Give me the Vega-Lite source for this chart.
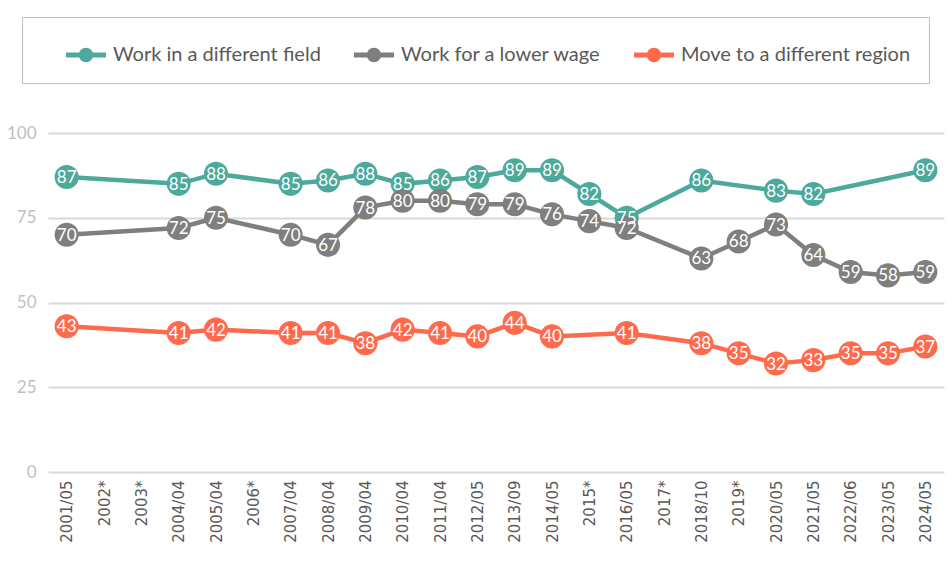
{
  "$schema": "https://vega.github.io/schema/vega-lite/v6.json",
  "width": 896,
  "height": 339,
  "autosize": "none",
  "padding": {"left": 48, "top": 133, "right": 3, "bottom": 109},
  "data": {
    "values": [
      {"d": "2001/05", "s": "Work in a different field", "v": 87},
      {"d": "2004/04", "s": "Work in a different field", "v": 85},
      {"d": "2005/04", "s": "Work in a different field", "v": 88},
      {"d": "2007/04", "s": "Work in a different field", "v": 85},
      {"d": "2008/04", "s": "Work in a different field", "v": 86},
      {"d": "2009/04", "s": "Work in a different field", "v": 88},
      {"d": "2010/04", "s": "Work in a different field", "v": 85},
      {"d": "2011/04", "s": "Work in a different field", "v": 86},
      {"d": "2012/05", "s": "Work in a different field", "v": 87},
      {"d": "2013/09", "s": "Work in a different field", "v": 89},
      {"d": "2014/05", "s": "Work in a different field", "v": 89},
      {"d": "2015*", "s": "Work in a different field", "v": 82},
      {"d": "2016/05", "s": "Work in a different field", "v": 75},
      {"d": "2018/10", "s": "Work in a different field", "v": 86},
      {"d": "2020/05", "s": "Work in a different field", "v": 83},
      {"d": "2021/05", "s": "Work in a different field", "v": 82},
      {"d": "2024/05", "s": "Work in a different field", "v": 89},
      {"d": "2001/05", "s": "Work for a lower wage", "v": 70},
      {"d": "2004/04", "s": "Work for a lower wage", "v": 72},
      {"d": "2005/04", "s": "Work for a lower wage", "v": 75},
      {"d": "2007/04", "s": "Work for a lower wage", "v": 70},
      {"d": "2008/04", "s": "Work for a lower wage", "v": 67},
      {"d": "2009/04", "s": "Work for a lower wage", "v": 78},
      {"d": "2010/04", "s": "Work for a lower wage", "v": 80},
      {"d": "2011/04", "s": "Work for a lower wage", "v": 80},
      {"d": "2012/05", "s": "Work for a lower wage", "v": 79},
      {"d": "2013/09", "s": "Work for a lower wage", "v": 79},
      {"d": "2014/05", "s": "Work for a lower wage", "v": 76},
      {"d": "2015*", "s": "Work for a lower wage", "v": 74},
      {"d": "2016/05", "s": "Work for a lower wage", "v": 72},
      {"d": "2018/10", "s": "Work for a lower wage", "v": 63},
      {"d": "2019*", "s": "Work for a lower wage", "v": 68},
      {"d": "2020/05", "s": "Work for a lower wage", "v": 73},
      {"d": "2021/05", "s": "Work for a lower wage", "v": 64},
      {"d": "2022/06", "s": "Work for a lower wage", "v": 59},
      {"d": "2023/05", "s": "Work for a lower wage", "v": 58},
      {"d": "2024/05", "s": "Work for a lower wage", "v": 59},
      {"d": "2001/05", "s": "Move to a different region", "v": 43},
      {"d": "2004/04", "s": "Move to a different region", "v": 41},
      {"d": "2005/04", "s": "Move to a different region", "v": 42},
      {"d": "2007/04", "s": "Move to a different region", "v": 41},
      {"d": "2008/04", "s": "Move to a different region", "v": 41},
      {"d": "2009/04", "s": "Move to a different region", "v": 38},
      {"d": "2010/04", "s": "Move to a different region", "v": 42},
      {"d": "2011/04", "s": "Move to a different region", "v": 41},
      {"d": "2012/05", "s": "Move to a different region", "v": 40},
      {"d": "2013/09", "s": "Move to a different region", "v": 44},
      {"d": "2014/05", "s": "Move to a different region", "v": 40},
      {"d": "2016/05", "s": "Move to a different region", "v": 41},
      {"d": "2018/10", "s": "Move to a different region", "v": 38},
      {"d": "2019*", "s": "Move to a different region", "v": 35},
      {"d": "2020/05", "s": "Move to a different region", "v": 32},
      {"d": "2021/05", "s": "Move to a different region", "v": 33},
      {"d": "2022/06", "s": "Move to a different region", "v": 35},
      {"d": "2023/05", "s": "Move to a different region", "v": 35},
      {"d": "2024/05", "s": "Move to a different region", "v": 37}
    ]
  },
  "encoding": {
    "x": {
      "field": "d",
      "type": "ordinal",
      "scale": {
        "type": "point",
        "padding": 0.5,
        "domain": ["2001/05", "2002*", "2003*", "2004/04", "2005/04", "2006*", "2007/04", "2008/04", "2009/04", "2010/04", "2011/04", "2012/05", "2013/09", "2014/05", "2015*", "2016/05", "2017*", "2018/10", "2019*", "2020/05", "2021/05", "2022/06", "2023/05", "2024/05"]
      },
      "axis": {
        "title": null,
        "labelAngle": -90,
        "labelFont": "DejaVu Sans",
        "labelFontSize": 15,
        "labelColor": "#595959",
        "labelPadding": 8,
        "domain": false,
        "ticks": false,
        "grid": false
      }
    },
    "y": {
      "field": "v",
      "type": "quantitative",
      "scale": {"domain": [0, 100]},
      "axis": {
        "title": null,
        "values": [0, 25, 50, 75, 100],
        "labelFont": "Lato",
        "labelFontSize": 17,
        "labelColor": "#bfbfbf",
        "labelPadding": 12,
        "domain": false,
        "ticks": false,
        "gridColor": "#d9d9d9",
        "gridWidth": 2
      }
    },
    "color": {
      "field": "s",
      "type": "nominal",
      "sort": null,
      "scale": {
        "domain": ["Work in a different field", "Work for a lower wage", "Move to a different region"],
        "range": ["#4ca99b", "#7f7f7f", "#ff6a4d"]
      },
      "legend": {
        "title": " ",
        "titleOrient": "left",
        "titleFontSize": 8,
        "titlePadding": 26,
        "orient": "none",
        "legendX": -26,
        "legendY": -116,
        "direction": "horizontal",
        "columns": 3,
        "padding": 18,
        "columnPadding": 33,
        "strokeColor": "#bfbfbf",
        "fillColor": "#ffffff",
        "symbolType": "M-1,-0.12H1V0.12H-1Z M0.36,0A0.36,0.36,0,1,1,-0.36,0A0.36,0.36,0,1,1,0.36,0Z",
        "symbolSize": 1600,
        "symbolStrokeWidth": 0,
        "symbolOpacity": 1,
        "labelFont": "Lato",
        "labelFontSize": 20,
        "labelColor": "#595959",
        "labelOffset": 7,
        "labelLimit": 400
      }
    }
  },
  "layer": [
    {
      "mark": {"type": "line", "strokeWidth": 4.5}
    },
    {
      "mark": {"type": "circle", "size": 580, "opacity": 1}
    },
    {
      "mark": {"type": "text", "font": "Lato", "fontSize": 17, "align": "center", "baseline": "middle", "dy": 1},
      "encoding": {"text": {"field": "v", "type": "quantitative"}, "color": {"value": "#ffffff"}}
    }
  ],
  "config": {"view": {"stroke": null}}
}
